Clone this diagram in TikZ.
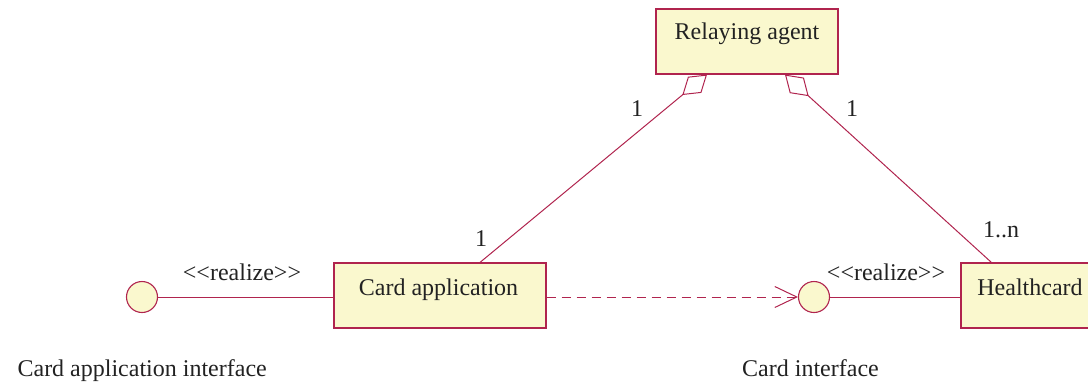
\documentclass[tikz,border=0pt]{standalone}
\usepackage{fontspec}
\setmainfont{Liberation Serif}[Ligatures=NoCommon]
\usetikzlibrary{arrows.meta}
\definecolor{umlline}{RGB}{176,36,78}
\definecolor{umlfill}{RGB}{250,248,206}
\definecolor{umltext}{RGB}{34,34,34}
\newcommand{\stereo}[1]{{<}{<}#1{>}{>}}
\begin{document}
\begin{tikzpicture}[x=1pt,y=-1pt,
  classbox/.style={draw=umlline, fill=umlfill, line width=1.2pt, rectangle, inner sep=0pt},
  lbl/.style={font=\fontsize{24}{28}\selectfont, text=umltext, inner sep=0pt, anchor=base},
  conn/.style={draw=umlline, line width=1pt},
  iface/.style={circle, draw=umlline, fill=umlfill, line width=1.1pt, minimum size=31pt, inner sep=0pt},
  aggr/.style={conn, -{Diamond[open, length=32pt, width=21pt]}},
  realize/.style={conn, dash pattern=on 9pt off 6pt, -{Straight Barb[length=22pt, width=21pt]}}]
\clip (0,0) rectangle (1088,381);

% classes
\node[classbox, minimum width=182pt, minimum height=65pt] (ra) at (747,41.5) {};
\node[classbox, minimum width=212pt, minimum height=65pt] (ca) at (440,295.5) {};
\node[classbox, minimum width=150pt, minimum height=65pt] (hc) at (1036,295.5) {};
\node[lbl] (ra-name) at (747,39) {Relaying agent};
\node[lbl] (ca-name) at (438.5,295) {Card application};
\node[lbl] (hc-name) at (1030,295) {Healthcard};

% interfaces
\node[iface] (cai) at (142,297) {};
\node[iface] (ci) at (814,297) {};
\node[lbl, anchor=base east] (cai-name) at (267,376) {Card application interface};
\node[lbl, anchor=base west] (ci-name) at (742,376) {Card interface};

% realizations
\draw[conn] (cai.east) -- (cai.east -| ca.west);
\draw[conn] (ci.east) -- (ci.east -| hc.west);
\node[lbl] (r1) at (242,280) {\stereo{realize}};
\node[lbl] (r2) at (886,280) {\stereo{realize}};
\draw[realize] (ci.west -| ca.east) -- (ci.west);

% aggregations
\draw[aggr] ([xshift=40pt]ca.north) -- ([xshift=-40pt]ra.south);
\draw[aggr] ([xshift=31pt]hc.north west) -- ([xshift=38pt]ra.south);
\node[lbl] (m1) at (637,116) {1};
\node[lbl] (m2) at (852,116) {1};
\node[lbl] (m3) at (481,246) {1};
\node[lbl] (m4) at (1001,237) {1..n};
\end{tikzpicture}
\end{document}
